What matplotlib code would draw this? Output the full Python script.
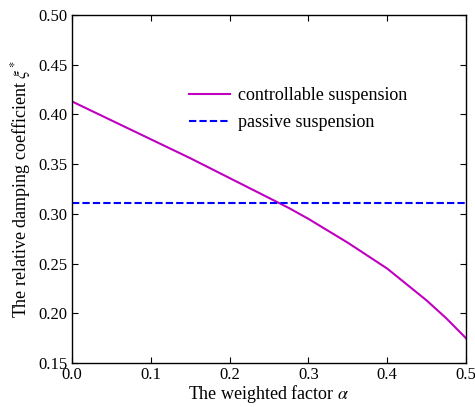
import numpy as np
import matplotlib.pyplot as plt

plt.rcParams['font.family'] = ['Liberation Serif', 'DejaVu Serif']
plt.rcParams['mathtext.fontset'] = 'stix'

alpha = [0.0, 0.05, 0.1, 0.15, 0.2, 0.25, 0.275, 0.3, 0.325, 0.35, 0.375,
         0.4, 0.425, 0.45, 0.475, 0.5]
xi_controllable = [0.413, 0.394, 0.375, 0.356, 0.336, 0.316, 0.306, 0.295, 0.283, 0.271, 0.258,
                   0.245, 0.229, 0.213, 0.195, 0.175]
xi_passive = 0.311

fig = plt.figure(figsize=(4.75, 4.07), dpi=100)
ax = fig.add_axes([0.152, 0.108, 0.829, 0.855])

ax.plot(alpha, xi_controllable, color='#c000c0', lw=1.5, label='controllable suspension')
ax.axhline(xi_passive, color='#0000ff', lw=1.5, ls=(0, (3.5, 1.5)), label='passive suspension')

ax.set_xlim(0, 0.5)
ax.set_ylim(0.15, 0.50)
ax.set_xticks(np.arange(0, 0.51, 0.1))
ax.set_yticks(np.arange(0.15, 0.51, 0.05))
ax.xaxis.set_major_formatter(plt.FormatStrFormatter('%.1f'))
ax.yaxis.set_major_formatter(plt.FormatStrFormatter('%.2f'))
ax.tick_params(direction='in', top=True, right=True, labelsize=12, length=4, width=0.8)
ax.tick_params(axis='x', pad=3)
for s in ax.spines.values():
    s.set_linewidth(1.0)

ax.set_xlabel(r'The weighted factor $\alpha$', fontsize=13, labelpad=0)
ax.set_ylabel(r'The relative damping coefficient $\xi^{*}$', fontsize=13, labelpad=4)

ax.legend(loc='upper left', bbox_to_anchor=(0.255, 0.84), frameon=False, fontsize=13,
          handlelength=2.3, handletextpad=0.4, labelspacing=0.55)

fig.savefig('out.png', dpi=100)
